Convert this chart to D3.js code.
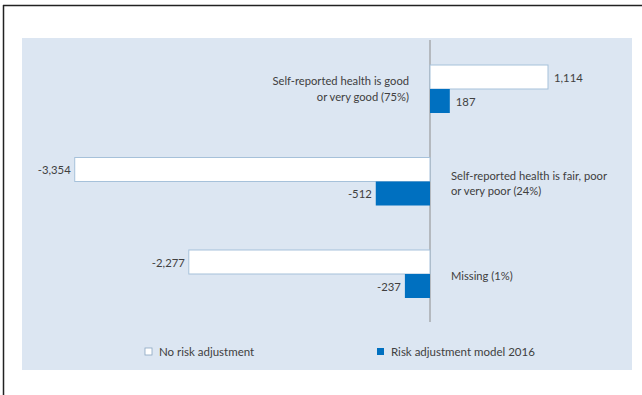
<!DOCTYPE html>
<html>
<head>
<meta charset="utf-8">
<script src="https://cdn.jsdelivr.net/npm/d3@7"></script>
<style>
body{margin:0;background:#fff;}
svg{display:block;font-family:Lato,"Open Sans",sans-serif;}
</style>
</head>
<body>
<svg id="chart" width="642" height="395"></svg>
<script>
var categories = [
	["Self-reported health is good", "or very good (75%)"],
	["Self-reported health is fair, poor", "or very poor (24%)"],
	["Missing (1%)"]
];
var noRisk = [1114, -3354, -2277];
var riskModel = [187, -512, -237];
var seriesNames = ["No risk adjustment", "Risk adjustment model 2016"];

var svg = d3.select('#chart');
var fmt = v => d3.format(',')(v).replace('\u2212','-');

// figure frame (top + left line only)
svg.append('line').attr('x1',3).attr('x2',642).attr('y1',5.5).attr('y2',5.5).attr('stroke','#222').attr('stroke-width',1.5);
svg.append('line').attr('x1',3.5).attr('x2',3.5).attr('y1',5).attr('y2',395).attr('stroke','#222').attr('stroke-width',1.5);

// panel
svg.append('rect').attr('x',22).attr('y',38).attr('width',610).attr('height',332).attr('fill','#dce6f2');

var xscale = d3.scaleLinear().domain([0,1114]).range([430,548]);
var yscale = d3.scaleBand().domain(d3.range(categories.length)).range([65,298]).paddingInner(0.481).paddingOuter(0);
var h = yscale.bandwidth()/2;

var g = svg.append('g');

// axis line
g.append('line').attr('x1',xscale(0)).attr('x2',xscale(0)).attr('y1',40).attr('y2',322).attr('stroke','#8c8c8c').attr('stroke-width',1);

var rows = g.selectAll('g.row').data(categories).enter().append('g').attr('class','row');

rows.append('rect')
	.attr('x',(d,i) => Math.min(xscale(0),xscale(noRisk[i])))
	.attr('y',(d,i) => yscale(i))
	.attr('width',(d,i) => Math.abs(xscale(noRisk[i])-xscale(0)))
	.attr('height',h)
	.attr('fill','#fff').attr('stroke','#a6c1da').attr('stroke-width',1);

rows.append('rect')
	.attr('x',(d,i) => Math.min(xscale(0),xscale(riskModel[i])))
	.attr('y',(d,i) => yscale(i)+h)
	.attr('width',(d,i) => Math.abs(xscale(riskModel[i])-xscale(0)))
	.attr('height',h)
	.attr('fill','#0070c0');

// value labels
function valLabel(vals, off){
	rows.append('text')
		.attr('x',(d,i) => vals[i] >= 0 ? xscale(vals[i])+6 : xscale(vals[i])-4)
		.attr('y',(d,i) => yscale(i)+off)
		.attr('dy','0.35em')
		.attr('text-anchor',(d,i) => vals[i] >= 0 ? 'start' : 'end')
		.attr('font-size',11.3).attr('fill','#404040')
		.text((d,i) => fmt(vals[i]));
}
valLabel(noRisk, h/2+1);
valLabel(riskModel, h+h/2+1);

// category labels: opposite side of bars
rows.each(function(d,i){
	var pos = noRisk[i] >= 0;
	var t = d3.select(this).append('text')
		.attr('text-anchor', pos ? 'end' : 'start')
		.attr('font-size',11.2).attr('fill','#404040');
	var cy = yscale(i)+h + (pos ? 0 : 2);
	var start = cy - (d.length-1)*7.5;
	d.forEach(function(line,j){
		t.append('tspan').attr('x', pos ? 409 : 451).attr('y', start + j*15.5).attr('dy','0.35em').text(line);
	});
});

// legend
var legend = svg.append('g');
var lx = [145, 377];
legend.selectAll('rect').data(seriesNames).enter().append('rect')
	.attr('x',(d,i) => lx[i]).attr('y',348).attr('width',7).attr('height',7)
	.attr('fill',(d,i) => i==0 ? '#fff' : '#0070c0')
	.attr('stroke',(d,i) => i==0 ? '#8aa6c0' : 'none').attr('stroke-width',0.8);
legend.selectAll('text').data(seriesNames).enter().append('text')
	.attr('x',(d,i) => lx[i]+14).attr('y',352).attr('dy','0.35em')
	.attr('font-size',11.5).attr('fill','#404040')
	.text(d => d);
</script>
</body>
</html>
